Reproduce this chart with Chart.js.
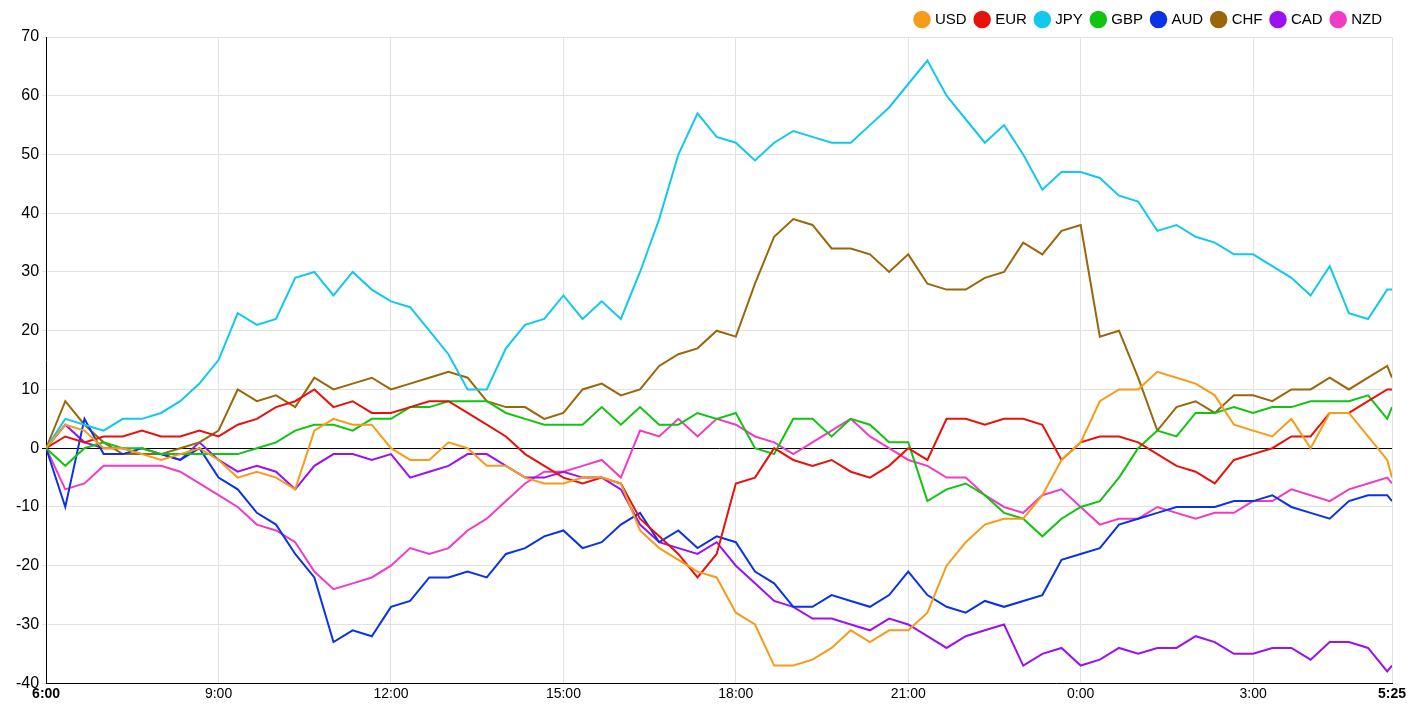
<!DOCTYPE html>
<html>
<head>
<meta charset="utf-8">
<script src="https://cdn.jsdelivr.net/npm/chart.js@4/dist/chart.umd.min.js"></script>
<style>
  body { margin: 0; background: #fff; }
  #wrap { width: 1418px; height: 711px; }
</style>
</head>
<body>
<div id="wrap"><canvas id="fxChart"></canvas></div>
<script>
// minutes since 6:00, sampled every 20 min, last point at 5:25
const minutes = [];
for (let m = 0; m <= 1400; m += 20) minutes.push(m);
minutes.push(1405);

const tickMinutes = [0, 180, 360, 540, 720, 900, 1080, 1260, 1405];

const usd = [0,4,3, 0,0,-1, -2,-1,0, -2,-5,-4, -5,-7,3, 5,4,4, 0,-2,-2, 1,0,-3, -3,-5,-6, -6,-5,-5, -6,-14,-17, -19,-21,-22, -28,-30,-37, -37,-36,-34, -31,-33,-31, -31,-28,-20, -16,-13,-12, -12,-8,-2, 1,8,10, 10,13,12, 11,9,4, 3,2,5, 0,6,6, 2,-2,-5];
const eur = [0,2,1, 2,2,3, 2,2,3, 2,4,5, 7,8,10, 7,8,6, 6,7,8, 8,6,4, 2,-1,-3, -5,-6,-5, -6,-12,-15, -18,-22,-18, -6,-5,0, -2,-3,-2, -4,-5,-3, 0,-2,5, 5,4,5, 5,4,-2, 1,2,2, 1,-1,-3, -4,-6,-2, -1,0,2, 2,6,6, 8,10,10];
const jpy = [0,5,4, 3,5,5, 6,8,11, 15,23,21, 22,29,30, 26,30,27, 25,24,20, 16,10,10, 17,21,22, 26,22,25, 22,30,39, 50,57,53, 52,49,52, 54,53,52, 52,55,58, 62,66,60, 56,52,55, 50,44,47, 47,46,43, 42,37,38, 36,35,33, 33,31,29, 26,31,23, 22,27,27];
const gbp = [0,-3,0, 1,0,0, -1,-1,-1, -1,-1,0, 1,3,4, 4,3,5, 5,7,7, 8,8,8, 6,5,4, 4,4,7, 4,7,4, 4,6,5, 6,0,-1, 5,5,2, 5,4,1, 1,-9,-7, -6,-8,-11, -12,-15,-12, -10,-9,-5, 0,3,2, 6,6,7, 6,7,7, 8,8,8, 9,5,7];
const aud = [0,-10,5, -1,-1,0, -1,-2,0, -5,-7,-11, -13,-18,-22, -33,-31,-32, -27,-26,-22, -22,-21,-22, -18,-17,-15, -14,-17,-16, -13,-11,-16, -14,-17,-15, -16,-21,-23, -27,-27,-25, -26,-27,-25, -21,-25,-27, -28,-26,-27, -26,-25,-19, -18,-17,-13, -12,-11,-10, -10,-10,-9, -9,-8,-10, -11,-12,-9, -8,-8,-9];
const chf = [0,8,4, 1,-1,-1, -1,0,1, 3,10,8, 9,7,12, 10,11,12, 10,11,12, 13,12,8, 7,7,5, 6,10,11, 9,10,14, 16,17,20, 19,28,36, 39,38,34, 34,33,30, 33,28,27, 27,29,30, 35,33,37, 38,19,20, 12,3,7, 8,6,9, 9,8,10, 10,12,10, 12,14,12];
const cad = [0,4,1, 0,0,-1, -1,-2,1, -2,-4,-3, -4,-7,-3, -1,-1,-2, -1,-5,-4, -3,-1,-1, -3,-5,-5, -4,-5,-5, -7,-13,-16, -17,-18,-16, -20,-23,-26, -27,-29,-29, -30,-31,-29, -30,-32,-34, -32,-31,-30, -37,-35,-34, -37,-36,-34, -35,-34,-34, -32,-33,-35, -35,-34,-34, -36,-33,-33, -34,-38,-37];
const nzd = [0,-7,-6, -3,-3,-3, -3,-4,-6, -8,-10,-13, -14,-16,-21, -24,-23,-22, -20,-17,-18, -17,-14,-12, -9,-6,-4, -4,-3,-2, -5,3,2, 5,2,5, 4,2,1, -1,1,3, 5,2,0, -2,-3,-5, -5,-8,-10, -11,-8,-7, -10,-13,-12, -12,-10,-11, -12,-11,-11, -9,-9,-7, -8,-9,-7, -6,-5,-6];

const seriesNames = ['USD', 'EUR', 'JPY', 'GBP', 'AUD', 'CHF', 'CAD', 'NZD'];
const seriesValues = [usd, eur, jpy, gbp, aud, chf, cad, nzd];
const seriesColors = ['#f59c1a', '#e8120c', '#12c8ec', '#12c412', '#0a33e6', '#9a660a', '#9a12f0', '#f03cc4'];

function fmtTime(m) {
    const h = (6 + Math.floor(m / 60)) % 24;
    const mm = m % 60;
    return h + ':' + String(mm).padStart(2, '0');
}

const ctx = document.getElementById('fxChart').getContext('2d');
new Chart(ctx, {
    type: 'line',
    data: {
        datasets: seriesNames.map((name, i) => ({
            label: name,
            data: seriesValues[i].map((v, j) => ({ x: minutes[j], y: v })),
            borderColor: seriesColors[i],
            backgroundColor: seriesColors[i],
            borderWidth: 2,
            pointRadius: 0,
            tension: 0
        }))
    },
    options: {
        responsive: true,
        maintainAspectRatio: false,
        animation: false,
        layout: { padding: { right: 26, top: 2, left: 13, bottom: 5 } },
        plugins: {
            legend: {
                align: 'end',
                labels: {
                    usePointStyle: true,
                    pointStyle: 'circle',
                    boxWidth: 11,
                    boxHeight: 11,
                    padding: 10,
                    color: '#000',
                    font: { family: 'Arial, Liberation Sans', size: 15 }
                }
            },
            tooltip: { enabled: false }
        },
        scales: {
            x: {
                type: 'linear',
                min: 0,
                max: 1405,
                afterBuildTicks: axis => { axis.ticks = tickMinutes.map(v => ({ value: v })); },
                ticks: {
                    maxRotation: 0,
                    autoSkip: false,
                    color: '#000',
                    font: c => ({ family: 'Arial, Liberation Sans', size: 14, weight: (c.index === 0 || c.index === tickMinutes.length - 1) ? 'bold' : 'normal' }),
                    callback: v => fmtTime(v)
                },
                grid: { color: '#e2e2e2', drawTicks: false },
                border: { color: '#000' }
            },
            y: {
                min: -40,
                max: 70,
                ticks: {
                    stepSize: 10,
                    color: '#000',
                    font: { family: 'Arial, Liberation Sans', size: 16 }
                },
                grid: {
                    color: c => c.tick.value === 0 ? '#000' : '#e2e2e2',
                    drawTicks: true,
                    tickLength: 4
                },
                border: { color: '#000' }
            }
        }
    }
});
</script>
</body>
</html>
